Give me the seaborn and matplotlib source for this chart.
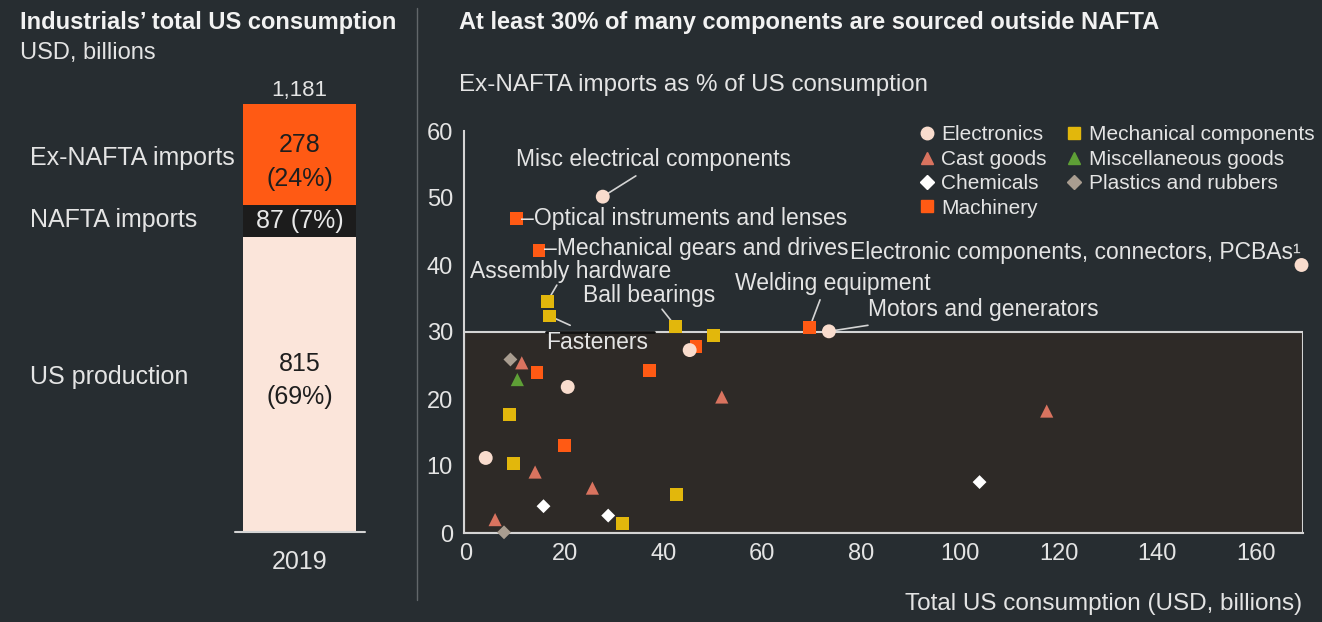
import numpy as np
import pandas as pd
import matplotlib
matplotlib.use("Agg")
import matplotlib.pyplot as plt
import seaborn as sns
from matplotlib.lines import Line2D
from matplotlib.patches import Rectangle

# ---- left panel: total US consumption, 2019 (USD bn)
bar_year = ["2019"]
bar_segments = ["US production", "NAFTA imports", "Ex-NAFTA imports"]
bar_values = [815, 87, 278]
bar_shares = [69, 7, 24]
bar_total = 1181

# ---- right panel: component categories
groups = ["Electronics", "Cast goods", "Chemicals", "Machinery",
          "Mechanical components", "Miscellaneous goods", "Plastics and rubbers"]

point_group = [
    "Electronics", "Machinery", "Machinery", "Mechanical components",
    "Mechanical components", "Mechanical components", "Machinery", "Electronics",
    "Electronics", "Mechanical components", "Machinery", "Electronics",
    "Plastics and rubbers", "Cast goods", "Miscellaneous goods", "Machinery",
    "Electronics", "Machinery", "Cast goods", "Mechanical components",
    "Machinery", "Electronics", "Mechanical components", "Cast goods",
    "Cast goods", "Chemicals", "Mechanical components", "Chemicals",
    "Mechanical components", "Cast goods", "Plastics and rubbers", "Cast goods",
    "Chemicals",
]
consumption = [27.7, 10.3, 14.8, 16.5, 16.9, 42.5, 69.6, 73.5,
               169.2, 50.2, 46.6, 45.3, 9.0, 11.3, 10.4, 14.4,
               20.6, 37.2, 51.8, 8.8, 20.0, 4.0, 9.6, 14.0,
               25.6, 15.7, 42.7, 28.8, 31.7, 5.9, 7.7, 117.6,
               104.0]
import_share = [50.2, 46.9, 42.2, 34.6, 32.4, 30.8, 30.7, 30.1,
                40.0, 29.5, 27.8, 27.3, 25.9, 25.4, 22.9, 23.9,
                21.8, 24.2, 20.3, 17.7, 13.0, 11.2, 10.4, 9.1,
                6.7, 4.0, 5.7, 2.6, 1.4, 2.0, 0.1, 18.2,
                7.6]
point_name = ["Misc electrical components", "Optical instruments and lenses",
              "Mechanical gears and drives", "Assembly hardware", "Fasteners",
              "Ball bearings", "Welding equipment", "Motors and generators",
              "Electronic components, connectors, PCBAs\u00b9"] + [""] * 24

df = pd.DataFrame({"group": point_group, "consumption": consumption,
                   "share": import_share, "name": point_name})

# ---- styling
BG = "#272d31"
BOX = "#2e2a27"
TXT = "#e4e4e4"
LINE = "#d4d4d4"
palette = {"Electronics": "#f9dccd", "Cast goods": "#d9735f", "Chemicals": "#ffffff",
           "Machinery": "#ff5a14", "Mechanical components": "#e2b70c",
           "Miscellaneous goods": "#5e9f36", "Plastics and rubbers": "#a99d90"}
markers = {"Electronics": "o", "Cast goods": "^", "Chemicals": "D", "Machinery": "s",
           "Mechanical components": "s", "Miscellaneous goods": "^",
           "Plastics and rubbers": "D"}
msize = {"Electronics": 100, "Cast goods": 90, "Chemicals": 50, "Machinery": 85,
         "Mechanical components": 85, "Miscellaneous goods": 90,
         "Plastics and rubbers": 50}

sns.set_theme(style="dark")
plt.rcParams["font.family"] = ["Liberation Sans", "DejaVu Sans"]
plt.rcParams.update({"figure.facecolor": BG, "axes.facecolor": BG,
                     "text.color": TXT, "xtick.color": TXT, "ytick.color": TXT})

W, H = 1322, 622
fig = plt.figure(figsize=(W / 100, H / 100), dpi=100)

def fx(px):
    return px / W

def fy(py):
    return (H - py) / H

# titles
fig.text(fx(20), fy(22), "Industrials\u2019 total US consumption", fontsize=17,
         fontweight="bold", va="center", color="#f2f2f2")
fig.text(fx(20), fy(53), "USD, billions", fontsize=17, va="center")
fig.text(fx(459), fy(22), "At least 30% of many components are sourced outside NAFTA",
         fontsize=17, fontweight="bold", va="center", color="#f2f2f2")
fig.text(fx(459), fy(85), "Ex-NAFTA imports as % of US consumption", fontsize=17.4,
         va="center")
fig.add_artist(Line2D([fx(417), fx(417)], [fy(600), fy(8)], color="#62676a", lw=1))

# ---- left stacked bar (cumulative bars drawn back to front)
axl = fig.add_axes([fx(234.5), fy(532), fx(130), (532 - 104) / H])
tops = np.cumsum(bar_values)
seg_colors = ["#fbe5da", "#1c1c1c", "#ff5a14"]
for i in reversed(range(len(bar_values))):
    sns.barplot(x=bar_year, y=[tops[i]], color=seg_colors[i], saturation=1,
                width=0.87, linewidth=0, ax=axl)
axl.set_ylim(0, bar_total)
axl.set_xlim(-0.5, 0.5)
axl.axhline(0, color=LINE, lw=1.5, clip_on=False)
for s in axl.spines.values():
    s.set_visible(False)
axl.set_yticks([])
axl.set_ylabel("")
axl.tick_params(axis="x", length=0, pad=13, labelsize=18)
axl.grid(False)
axl.text(0, bar_total + 38, f"{bar_total:,}", ha="center", va="center", fontsize=16)
bottoms = np.concatenate([[0], tops[:-1]])
text_shift = [11, 0, -20]
for i, (v, sh) in enumerate(zip(bar_values, bar_shares)):
    mid = bottoms[i] + v / 2 + text_shift[i]
    if i == 1:
        axl.text(0, mid, f"{v} ({sh}%)", ha="center", va="center", fontsize=18,
                 color="#e8e8e8")
    else:
        axl.text(0, mid, f"{v}\n({sh}%)", ha="center", va="center", fontsize=18,
                 color="#1e1e1e", linespacing=1.48)
for seg, py in zip(bar_segments, [377, 220, 158]):
    fig.text(fx(30), fy(py), seg, fontsize=18, va="center")

# ---- right scatter
axr = fig.add_axes([fx(464), fy(533), fx(839), 402 / H])
x0, x1 = -0.4, 169.5
axr.add_patch(Rectangle((x0, 0), x1 - x0, 30, facecolor=BOX, edgecolor=LINE,
                        lw=1.5, zorder=0))
sns.scatterplot(data=df, x="consumption", y="share", hue="group", style="group",
                size="group", hue_order=groups, style_order=groups, size_order=groups,
                palette=palette, markers=markers, sizes=msize, linewidth=0,
                legend=False, clip_on=False, zorder=3, ax=axr)
axr.set_xlim(x0, x1)
axr.set_ylim(0, 60)
axr.grid(False)
axr.set_xlabel("")
axr.set_ylabel("")
for side in ["top", "right"]:
    axr.spines[side].set_visible(False)
for side in ["left", "bottom"]:
    axr.spines[side].set_color(LINE)
    axr.spines[side].set_linewidth(1.5)
axr.set_xticks(np.arange(0, 161, 20))
axr.set_xticks(np.arange(10, 170, 20), minor=True)
axr.set_yticks(np.arange(0, 61, 10))
axr.tick_params(axis="x", which="both", direction="inout", length=8, width=1,
                color="#8a8a8a", labelsize=17, pad=3)
axr.tick_params(axis="y", length=0, labelsize=17, pad=8)
fig.text(fx(1302), fy(604), "Total US consumption (USD, billions)", fontsize=17.5,
         ha="right", va="center")

# point labels: (name, text x, text y, ha, line end x, line end y)
labels = [
    ("Misc electrical components", 10.1, 55.7, "left", 34.4, 53.3),
    ("Optical instruments and lenses", 11.2, 47.0, "left", None, None),
    ("Mechanical gears and drives", 15.7, 42.5, "left", None, None),
    ("Assembly hardware", 0.8, 39.0, "left", 18.4, 37.0),
    ("Fasteners", 16.2, 28.4, "left", 21.1, 31.0),
    ("Ball bearings", 23.7, 35.5, "left", 39.7, 33.4),
    ("Welding equipment", 54.5, 37.2, "left", 71.7, 34.8),
    ("Motors and generators", 81.4, 33.3, "left", 81.4, 31.0),
    ("Electronic components, connectors, PCBAs\u00b9", 169.0, 41.8, "right", None, None),
]
for name, tx, ty, ha, lx, ly in labels:
    row = df[df["name"] == name].iloc[0]
    text = name
    if name in ("Optical instruments and lenses", "Mechanical gears and drives"):
        text = "\u2013" + name
    if name == "Fasteners":
        axr.plot([16.2, 38.0], [30, 30], color="#111111", lw=2, zorder=1)
    axr.text(tx, ty, text, ha=ha, va="center", fontsize=16.5, zorder=4)
    if lx is not None:
        axr.plot([row["consumption"], lx], [row["share"], ly], color=LINE, lw=1.2,
                 zorder=2, clip_on=False)

# legend
handles = [Line2D([], [], linestyle="", marker=markers[g], color=palette[g],
                  markersize=9 if markers[g] != "D" else 7) for g in groups]
fig.legend(handles, groups, loc="upper left", bbox_to_anchor=(fx(908), fy(115)),
           ncol=2, frameon=False, fontsize=15, handlelength=0.8, handletextpad=0.3,
           columnspacing=0.9, labelspacing=0.26, borderpad=0, labelcolor=TXT)

fig.savefig("out.png", dpi=100, facecolor=BG)
